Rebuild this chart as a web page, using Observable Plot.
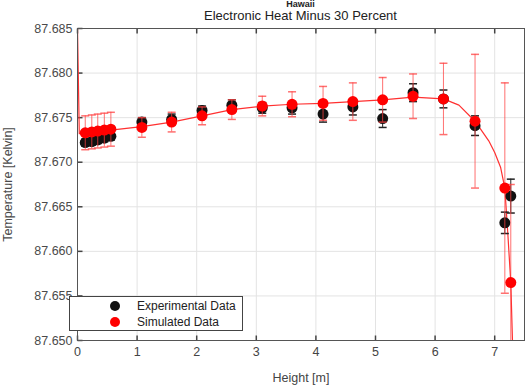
<!DOCTYPE html>
<html>
<head>
<meta charset="utf-8">
<script src="https://cdn.jsdelivr.net/npm/d3@7"></script>
<script src="https://cdn.jsdelivr.net/npm/@observablehq/plot@0.6"></script>
<style>
  html, body { margin: 0; padding: 0; background: #fff; width: 527px; height: 385px; overflow: hidden; font-family: "Liberation Sans", Arial, sans-serif; }
  #wrap { position: relative; width: 527px; height: 385px; }
  #head { position: relative; height: 23px; width: 527px; }
  #sup { position: absolute; left: 77px; width: 447px; top: 0px; height: 9px; line-height: 9px; text-align: center; font-weight: bold; font-size: 9px; color: #222; }
  #title { position: absolute; left: 77px; width: 447px; top: 9px; height: 14px; line-height: 14px; text-align: center; font-size: 13px; color: #222; }
  #legend { position: absolute; left: 69px; top: 296px; width: 172px; height: 33px; background: #fff; border: 1px solid #444; font-size: 12px; color: #222; }
  #legend .row { position: absolute; left: 0; height: 16px; line-height: 16px; }
  #legend svg { position: absolute; left: 37px; top: 0; }
  #legend span { position: absolute; left: 67px; white-space: nowrap; }
</style>
</head>
<body>
<div id="wrap">
  <div id="head"><div id="sup">Hawaii</div><div id="title">Electronic Heat Minus 30 Percent</div></div>
  <div id="chart"></div>
  <div id="legend">
    <div class="row" style="top:1px"><svg width="16" height="16"><circle cx="8" cy="8" r="5" fill="#111"/></svg><span>Experimental Data</span></div>
    <div class="row" style="top:17px"><svg width="16" height="16"><circle cx="8" cy="8" r="5" fill="#f00"/></svg><span>Simulated Data</span></div>
  </div>
</div>
<script>
// Measurement heights [m]
const heights = [0.13, 0.24, 0.34, 0.45, 0.56, 1.08, 1.58, 2.09, 2.59, 3.10, 3.60, 4.12, 4.62, 5.12, 5.63, 6.14, 6.67, 7.17, 7.27];
// Experimental temperatures [K] and error half-widths
const expT = [87.6722, 87.6723, 87.6725, 87.6727, 87.6729, 87.6745, 87.6748, 87.6758, 87.6764, 87.6761, 87.6761, 87.6754, 87.6762, 87.6749, 87.6778, 87.6771, 87.6741, 87.6632, 87.6662];
const expErr = [0.0004, 0.0004, 0.0004, 0.0004, 0.0004, 0.0005, 0.0006, 0.0005, 0.0006, 0.0006, 0.0007, 0.0009, 0.0009, 0.0010, 0.0010, 0.0010, 0.0011, 0.0012, 0.0019];
// Simulated temperatures [K] and error half-widths
const simT = [87.6733, 87.6734, 87.6735, 87.6736, 87.6737, 87.6739, 87.6745, 87.6752, 87.6759, 87.6763, 87.6765, 87.6766, 87.6768, 87.6770, 87.6774, 87.6771, 87.6746, 87.6671, 87.6565];
const simErr = [0.0019, 0.0019, 0.0019, 0.0019, 0.0019, 0.0011, 0.0011, 0.0010, 0.0011, 0.0011, 0.0014, 0.0019, 0.0021, 0.0025, 0.0025, 0.0040, 0.0075, 0.0118, 0.0110];
// Simulated profile curve
const lineH = [0, 0.03, 0.13, 0.56, 1.08, 1.58, 2.09, 2.59, 3.10, 3.60, 4.12, 4.62, 5.12, 5.63, 6.14, 6.40, 6.67, 6.90, 7.00, 7.10, 7.17, 7.22, 7.27, 7.32];
const lineT = [87.6850, 87.6732, 87.6732, 87.6736, 87.6740, 87.6745, 87.6752, 87.6759, 87.6763, 87.6765, 87.6766, 87.6768, 87.6770, 87.6773, 87.6771, 87.6764, 87.6746, 87.6724, 87.6711, 87.6694, 87.6671, 87.6620, 87.6565, 87.6450];
// Axis ticks
const xTicks = [0, 1, 2, 3, 4, 5, 6, 7];
const yTicks = [87.650, 87.655, 87.660, 87.665, 87.670, 87.675, 87.680, 87.685];

const expData = heights.map((h, i) => ({h, t: expT[i], lo: expT[i] - expErr[i], hi: expT[i] + expErr[i]}));
const simData = heights.map((h, i) => ({h, t: simT[i], lo: simT[i] - simErr[i], hi: simT[i] + simErr[i]}));
const curve = lineH.map((h, i) => ({h, t: lineT[i]}));

const cap = { draw(ctx, size) { const r = Math.sqrt(size / Math.PI); ctx.moveTo(-r, 0); ctx.lineTo(r, 0); } };
const vtick = { draw(ctx, size) { const r = Math.sqrt(size / Math.PI); ctx.moveTo(0, -r); ctx.lineTo(0, r); } };
const htick = cap;

const chart = Plot.plot({
  width: 527,
  height: 362,
  marginTop: 5,
  marginBottom: 45,
  marginLeft: 77,
  marginRight: 3,
  style: { fontFamily: "Liberation Sans, Arial, sans-serif", fontSize: "12.5px", color: "#4a4a4a", background: "#fff" },
  x: { domain: [0, 7.5] },
  y: { domain: [87.650, 87.685] },
  marks: [
    Plot.gridX(xTicks, { stroke: "#e3e3e3", strokeOpacity: 1 }),
    Plot.gridY(yTicks, { stroke: "#e3e3e3", strokeOpacity: 1 }),
    Plot.axisX(xTicks, { tickSize: 0, tickPadding: 7, tickFormat: d => d, label: "Height [m]", labelAnchor: "center", labelOffset: 41, labelArrow: "none", fontSize: 12.5, color: "#444" }),
    Plot.axisY(yTicks, { tickSize: 0, tickPadding: 5, tickFormat: d => d.toFixed(3), label: "Temperature [Kelvin]", labelAnchor: "center", labelOffset: 74, labelArrow: "none", fontSize: 12.5 }),
    // small inward ticks on the box
    Plot.dot(xTicks, { x: d => d, y: 87.650, symbol: vtick, r: 2.5, dy: -2.5, stroke: "#444", fill: "none" }),
    Plot.dot(xTicks, { x: d => d, y: 87.685, symbol: vtick, r: 2.5, dy: 2.5, stroke: "#444", fill: "none" }),
    Plot.dot(yTicks, { x: 0, y: d => d, symbol: htick, r: 2.5, dx: 2.5, stroke: "#444", fill: "none" }),
    // simulated curve
    Plot.line(curve, { x: "h", y: "t", stroke: "#ff3030", strokeWidth: 1.2, clip: true }),
    // experimental error bars and points
    Plot.ruleX(expData, { x: "h", y1: "lo", y2: "hi", stroke: "#222", strokeWidth: 1, clip: true }),
    Plot.dot(expData, { x: "h", y: "lo", symbol: cap, r: 4, stroke: "#222", fill: "none" }),
    Plot.dot(expData, { x: "h", y: "hi", symbol: cap, r: 4, stroke: "#222", fill: "none" }),
    Plot.dot(expData, { x: "h", y: "t", r: 5.5, fill: "#111", stroke: "none" }),
    // simulated error bars and points
    Plot.ruleX(simData, { x: "h", y1: "lo", y2: "hi", stroke: "#ff4040", strokeOpacity: 0.75, strokeWidth: 1, clip: true }),
    Plot.dot(simData, { x: "h", y: "lo", symbol: cap, r: 4, stroke: "#ff4040", strokeOpacity: 0.75, fill: "none", clip: true }),
    Plot.dot(simData, { x: "h", y: "hi", symbol: cap, r: 4, stroke: "#ff4040", strokeOpacity: 0.75, fill: "none", clip: true }),
    Plot.dot(simData, { x: "h", y: "t", r: 5.5, fill: "#ff0000", stroke: "none" }),
    Plot.frame({ stroke: "#555" })
  ]
});
document.getElementById("chart").appendChild(chart);
</script>
</body>
</html>
